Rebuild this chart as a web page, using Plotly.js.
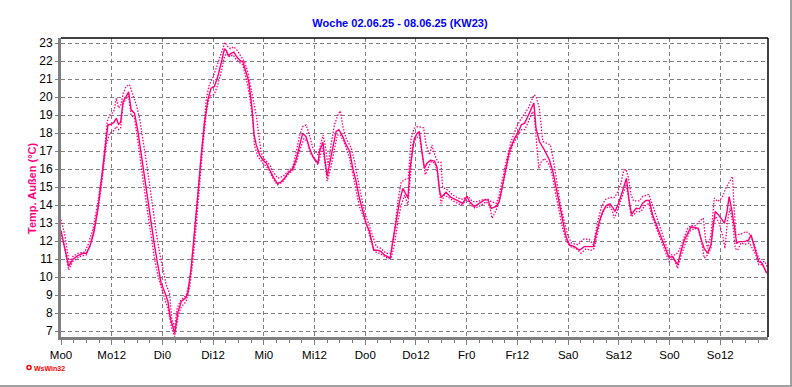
<!DOCTYPE html>
<html>
<head>
<meta charset="utf-8">
<script src="https://cdn.plot.ly/plotly-3.0.1.min.js"></script>
<style>html,body{margin:0;padding:0;background:#fff;}#chart{width:792px;height:387px;}</style>
</head>
<body>
<div id="chart"></div>
<script>
// ---- data (hours since Monday 00:00, temperature °C) ----
const tickHours = [0,12,24,36,48,60,72,84,96,108,120,132,144,156];
const tickLabels = ["Mo0","Mo12","Di0","Di12","Mi0","Mi12","Do0","Do12","Fr0","Fr12","Sa0","Sa12","So0","So12"];

const tempHours = [0,1.8,2.8,4.0,5.2,6.0,6.8,7.8,8.75,9.5,10.3,11.1,11.9,12.5,13.1,13.6,14.1,14.7,15.4,16.0,16.6,17.4,18.2,19.0,19.8,20.6,21.35,22.1,22.9,23.7,24.5,25.3,25.9,26.9,27.7,28.45,29.4,30.0,30.8,31.6,32.4,33.2,34.0,34.75,35.5,36.3,37.1,37.9,38.7,39.1,39.6,40.3,40.9,41.7,42.6,43.0,43.8,44.4,45.2,45.7,46.2,47.0,47.8,48.6,49.4,50.15,51.2,52.1,52.9,53.7,54.9,55.7,56.5,57.2,58.0,58.8,59.6,60.8,61.2,62.0,62.4,63.0,63.5,64.3,65.1,65.75,66.7,67.5,68.3,69.05,69.85,70.6,71.4,72.2,73.0,74.0,75.0,75.75,76.5,77.9,78.5,79.3,80.1,80.9,81.5,82.1,82.6,83.1,83.6,84.3,84.8,85.4,86.0,86.6,87.4,88.4,89.0,89.6,90.0,91.1,92.3,93.5,95.1,96.0,96.7,97.8,99.0,100.2,101.0,101.8,103.0,103.7,104.5,105.3,106.1,107.3,108.1,108.9,109.7,110.4,111.2,111.9,112.4,113.2,114.4,115.6,116.4,117.1,117.9,118.7,119.5,120.3,121.5,122.7,123.8,125.0,126.0,126.6,127.4,128.2,129.0,129.9,130.5,131.1,131.9,132.85,133.3,133.8,134.4,135.0,135.5,136.1,136.9,137.6,138.4,139.2,140.0,140.8,141.6,142.4,143.2,143.9,144.7,145.4,145.9,146.7,147.5,148.3,149.1,149.9,150.8,151.4,152.2,153.0,153.8,154.2,154.8,155.6,156.4,157.0,157.6,158.1,158.8,159.3,159.9,160.5,161.7,162.7,163.3,163.8,164.4,165.1,165.9,166.4,167.0];
const tempValues = [12.6,10.6,11.0,11.2,11.33,11.33,11.7,12.5,13.8,15.3,17.0,18.46,18.5,18.6,18.83,18.5,18.6,19.76,20.04,20.3,19.3,19.1,18.1,16.8,15.5,14.2,12.9,11.8,10.7,9.67,9.2,8.65,7.7,6.9,8.1,8.65,8.83,9.1,10.5,12.35,14.6,16.8,18.65,19.85,20.5,20.6,21.15,21.9,22.7,22.6,22.3,22.45,22.5,22.2,22.0,22.0,21.4,20.9,19.4,17.9,17.35,16.8,16.5,16.33,15.96,15.6,15.2,15.3,15.5,15.78,16.05,16.6,17.35,18.0,17.8,17.17,16.7,16.33,17.0,17.5,16.6,15.6,16.24,17.17,18.1,18.2,17.8,17.35,17.0,16.05,15.3,14.4,13.65,13.0,12.54,11.5,11.5,11.43,11.24,11.06,11.98,13.1,14.2,14.94,14.67,14.4,16.05,17.0,17.7,18.0,18.1,17.0,16.05,16.33,16.5,16.45,16.1,14.76,14.45,14.72,14.43,14.3,14.1,14.5,14.2,13.93,14.1,14.3,14.3,13.83,13.93,14.2,15.13,16.05,17.0,17.7,18.0,18.46,18.56,18.9,19.3,19.67,18.3,17.54,17.07,16.5,15.87,15.04,14.0,13.1,12.26,11.8,11.7,11.5,11.7,11.7,11.7,12.35,13.1,13.65,13.98,14.08,13.9,13.65,14.1,14.76,15.13,15.5,14.3,13.5,13.65,13.83,13.8,14.1,14.26,14.26,13.46,13.0,12.44,11.98,11.5,11.1,11.15,10.87,10.7,11.43,12.06,12.44,12.8,12.76,12.72,12.17,11.6,11.33,11.8,12.54,13.65,13.46,13.18,13.0,13.65,14.48,13.65,12.9,11.9,11.98,11.98,12.06,12.35,11.9,11.43,10.87,10.78,10.5,10.22];

const maxHours = [0,0.9,2.0,2.8,4.0,5.6,6.4,7.6,8.75,9.9,10.95,11.5,12.5,13.1,13.6,14.1,14.7,15.4,16.2,17.0,17.8,18.6,19.4,20.2,21.0,21.7,22.5,23.3,24.1,24.9,25.7,26.2,26.9,27.5,28.3,29.6,30.4,31.2,32.0,32.8,33.6,34.4,35.1,35.9,36.7,37.5,38.3,38.8,39.5,40.1,40.9,41.7,42.5,43.4,44.2,45.0,45.6,46.2,46.8,47.4,48.2,49.4,50.15,51.3,52.5,53.7,54.9,55.7,56.5,57.2,58.0,58.8,59.6,60.8,61.4,62.0,62.5,63.2,63.9,64.7,65.5,66.1,66.7,67.5,68.7,69.5,70.2,71.0,71.8,72.6,73.4,74.6,75.75,76.9,78.1,78.9,79.7,80.5,81.7,82.2,82.85,83.6,84.4,85.8,86.4,87.2,87.8,88.4,89.2,89.9,90.3,91.5,92.7,93.9,95.1,96.3,97.4,98.6,99.8,101.0,101.8,103.0,103.7,104.5,105.3,106.5,107.7,108.7,109.7,110.6,111.4,111.9,112.4,113.2,114.0,114.8,115.8,116.6,117.4,118.2,119.1,119.9,120.8,122.3,123.8,125.0,126.0,127.0,127.8,128.7,129.8,130.9,131.6,132.4,133.1,133.7,134.3,134.9,135.5,136.9,137.6,139.1,140.0,141.2,142.4,143.6,144.3,145.5,146.3,147.3,148.3,149.1,150.2,151.0,152.0,152.5,153.0,153.8,154.6,155.4,156.4,157.3,158.1,158.9,159.3,159.7,160.9,162.1,163.0,164.0,164.8,165.6,166.6,167.0];
const maxValues = [13.2,12.35,10.7,11.15,11.33,11.4,11.8,12.7,14.2,16.05,18.65,19.0,19.2,19.95,19.4,19.5,20.2,20.6,20.7,20.2,19.6,18.83,17.7,16.4,15.1,13.8,12.54,11.4,10.5,9.57,9.1,7.7,7.17,8.3,8.7,9.0,9.7,11.4,13.65,15.87,18.1,19.95,20.7,21.06,21.6,22.17,22.7,23.05,22.8,22.7,22.8,22.6,22.3,22.0,21.4,20.5,19.7,19.0,17.9,16.9,16.54,16.24,15.87,15.5,15.6,15.87,16.15,17.0,17.9,18.37,18.46,17.9,17.17,16.8,17.35,17.9,17.35,16.24,17.35,18.46,19.0,19.24,18.37,17.7,17.17,16.4,15.5,14.57,13.65,13.1,12.54,11.7,11.6,11.33,11.33,12.54,14.2,15.3,15.46,15.5,17.7,18.28,18.37,18.3,17.35,16.8,17.35,16.8,16.4,16.4,15.0,14.85,14.57,14.4,14.33,14.5,14.2,14.2,14.3,14.33,14.2,14.1,14.57,15.5,16.4,17.54,18.28,18.74,19.1,19.4,19.85,20.13,20.04,19.4,17.54,17.44,17.35,16.4,15.13,14.0,13.1,12.35,11.9,11.8,12.13,12.1,11.8,13.1,13.83,14.3,14.43,14.43,14.67,15.13,15.87,16.0,15.5,14.57,14.24,14.24,14.48,14.6,14.0,13.18,12.35,11.5,11.24,11.24,11.5,12.06,12.72,12.87,12.87,13.1,13.28,12.17,11.6,12.35,14.4,14.2,14.4,14.94,15.3,15.6,13.83,12.35,12.39,12.54,12.39,11.9,11.24,10.87,10.87,10.6];

const minHours = [0,0.9,1.8,2.8,4.4,6.0,7.2,8.35,9.5,10.7,11.5,12.3,13.1,13.6,14.1,14.66,15.4,16.0,16.6,17.4,18.2,19.0,19.8,20.6,21.35,22.1,22.9,23.7,24.5,25.3,26.2,26.9,27.7,28.45,29.6,30.4,31.2,32.0,32.8,33.6,34.4,35.1,36.3,37.1,37.9,38.7,39.3,39.9,40.7,41.5,42.2,43.0,43.8,44.6,45.4,45.8,46.6,47.8,49.0,50.15,51.2,52.5,53.7,54.9,55.7,56.5,57.5,58.3,59.0,60.0,60.8,61.4,62.0,62.5,63.0,63.8,64.6,65.4,66.1,67.1,68.3,69.05,69.85,70.6,71.7,72.6,73.4,74.2,75.4,76.5,77.5,78.1,78.9,79.7,80.5,81.3,82.1,82.7,83.2,84.0,84.8,85.6,86.2,86.8,87.6,88.5,89.15,89.9,90.7,91.9,93.1,94.7,96.0,97.0,98.0,99.4,100.6,101.4,102.0,103.0,104.1,104.9,105.9,106.9,108.1,109.0,109.8,110.6,111.6,112.0,112.65,113.05,113.6,114.4,115.6,116.4,117.1,117.9,118.7,119.5,120.5,121.9,123.05,124.2,125.4,126.2,127.0,127.8,128.7,129.8,130.4,130.9,131.6,132.4,133.1,133.7,134.2,134.9,135.5,136.2,137.25,138.0,139.1,139.85,140.6,141.6,142.8,143.9,144.9,145.9,146.7,147.7,148.7,149.9,150.9,151.7,152.2,153.0,153.8,154.35,155.0,155.9,156.7,157.1,157.7,158.3,158.9,159.55,160.1,160.9,161.7,162.9,163.6,164.4,165.1,166.0,167.0];
const minValues = [12.35,11.6,10.4,10.87,11.15,11.24,12.0,13.28,14.94,17.35,18.0,18.1,18.37,18.2,18.28,19.57,19.94,20.04,19.0,18.83,17.54,16.05,14.76,13.46,12.17,11.06,10.13,9.4,8.83,8.28,7.17,6.7,7.8,8.35,8.65,9.4,10.87,12.9,15.3,17.35,19.2,20.04,20.17,20.7,21.4,22.26,22.45,22.26,22.35,22.07,21.94,21.8,21.06,20.13,18.65,17.3,16.7,16.33,16.05,15.5,15.13,15.3,15.7,15.96,16.4,17.07,17.7,17.54,16.9,16.5,16.24,16.8,17.17,16.24,15.35,16.05,17.07,17.9,17.9,17.44,16.6,15.7,14.76,13.93,13.28,12.72,11.98,11.43,11.33,11.15,11.02,11.06,11.8,13.1,14.0,14.57,14.0,15.7,17.35,17.7,17.9,16.6,15.7,16.05,16.43,16.33,15.7,14.1,14.57,14.4,14.2,14.0,14.3,14.0,13.83,14.0,14.2,14.0,13.28,13.74,14.57,15.5,16.6,17.35,17.9,18.2,18.2,18.65,19.2,19.0,17.35,16.05,16.4,16.6,16.24,15.5,14.57,13.55,12.72,12.06,11.7,11.6,11.33,11.57,11.5,11.6,12.54,13.37,13.83,13.93,13.74,13.28,13.65,14.2,14.76,15.13,14.57,13.37,13.46,13.65,13.65,13.93,14.1,13.37,12.9,12.26,11.6,10.87,11.1,10.5,11.15,11.9,12.54,12.72,12.63,11.8,11.06,11.24,11.6,13.1,13.37,12.9,12.17,11.6,13.1,13.83,13.1,11.6,11.5,11.9,11.83,11.9,11.6,11.24,10.7,10.7,10.22];

// ---- styles ----
const pink = '#ff007f';
const gridGray = '#808080';
const FONT = '"Liberation Sans", Arial, sans-serif';

// pixel helpers for paper coordinates (plot area 61..768 x 38..337)
const PL = 61, PR = 768, PT = 38, PB = 337;
const px = v => (v - PL) / (PR - PL);
const py = v => (PB - v) / (PB - PT);

const traces = [
  {x: maxHours, y: maxValues, type: 'scatter', mode: 'lines', name: 'Max',
   line: {color: pink, width: 1.3, dash: '1.5px,1.5px'}, hoverinfo: 'skip'},
  {x: minHours, y: minValues, type: 'scatter', mode: 'lines', name: 'Min',
   line: {color: pink, width: 1.3, dash: '1.5px,1.5px'}, hoverinfo: 'skip'},
  {x: tempHours, y: tempValues, type: 'scatter', mode: 'lines', name: 'Temp. Außen',
   line: {color: pink, width: 1.4}}
];

const layout = {
  width: 792, height: 387, autosize: false,
  margin: {l: PL, r: 792 - PR, t: PT, b: 387 - PB, pad: 0},
  paper_bgcolor: '#ffffff', plot_bgcolor: '#ffffff',
  showlegend: false,
  font: {family: FONT, size: 12, color: '#000'},
  title: {text: '<b>Woche 02.06.25 - 08.06.25 (KW23)</b>', xref: 'container', yref: 'container',
          x: 400 / 792, y: 1 - 23 / 387, xanchor: 'center', yanchor: 'middle',
          font: {family: FONT, size: 11, color: '#0000ff'}},
  xaxis: {
    range: [0, 167.3], tickmode: 'array', tickvals: tickHours, ticktext: tickLabels,
    showgrid: true, gridcolor: gridGray, gridwidth: 1, griddash: '4px,3px',
    zeroline: false, showline: true, linecolor: gridGray, linewidth: 3,
    ticks: 'outside', ticklen: 5, tickwidth: 1, tickcolor: gridGray,
    tickfont: {family: FONT, size: 11.5, color: '#000'},
    minor: {tickmode: 'linear', tick0: 0, dtick: 3, ticks: 'outside', ticklen: 3, tickcolor: gridGray, tickwidth: 1, showgrid: false},
    fixedrange: true
  },
  yaxis: {
    range: [6.68, 23.29], tickmode: 'linear', tick0: 7, dtick: 1,
    showgrid: true, gridcolor: gridGray, gridwidth: 1, griddash: '4px,3px',
    zeroline: false, showline: true, linecolor: gridGray, linewidth: 3,
    ticks: 'outside', ticklen: 3, tickwidth: 1, tickcolor: gridGray,
    tickfont: {family: FONT, size: 12, color: '#000'},
    fixedrange: true
  },
  annotations: [
    {text: '<b>Temp. Außen (°C)</b>', xref: 'paper', yref: 'paper', x: px(32), y: py(188),
     xanchor: 'center', yanchor: 'middle', textangle: -90, showarrow: false,
     font: {family: FONT, size: 11, color: pink}},
    {text: '<b>WsWin32</b>', xref: 'paper', yref: 'paper', x: px(32), y: py(368),
     xanchor: 'left', yanchor: 'middle', showarrow: false,
     font: {family: FONT, size: 7, color: '#ff0000'}}
  ],
  shapes: [
    {type: 'line', xref: 'paper', yref: 'paper', x0: 0, x1: 1, y0: 1, y1: 1, line: {color: '#000', width: 1.5}},
    {type: 'line', xref: 'paper', yref: 'paper', x0: 1, x1: 1, y0: 0, y1: 1, line: {color: '#000', width: 1.5}},
    {type: 'line', xref: 'paper', yref: 'paper', x0: px(791), x1: px(791), y0: py(387), y1: py(0), line: {color: '#a0a0a0', width: 2}},
    {type: 'line', xref: 'paper', yref: 'paper', x0: px(0), x1: px(792), y0: py(386), y1: py(386), line: {color: '#a0a0a0', width: 2}},
    {type: 'circle', xref: 'paper', yref: 'paper', x0: px(27), x1: px(31), y0: py(369.5), y1: py(365.5), line: {color: '#ff0000', width: 1.5}}
  ]
};

Plotly.newPlot('chart', traces, layout, {staticPlot: true, displayModeBar: false});
</script>
</body>
</html>
